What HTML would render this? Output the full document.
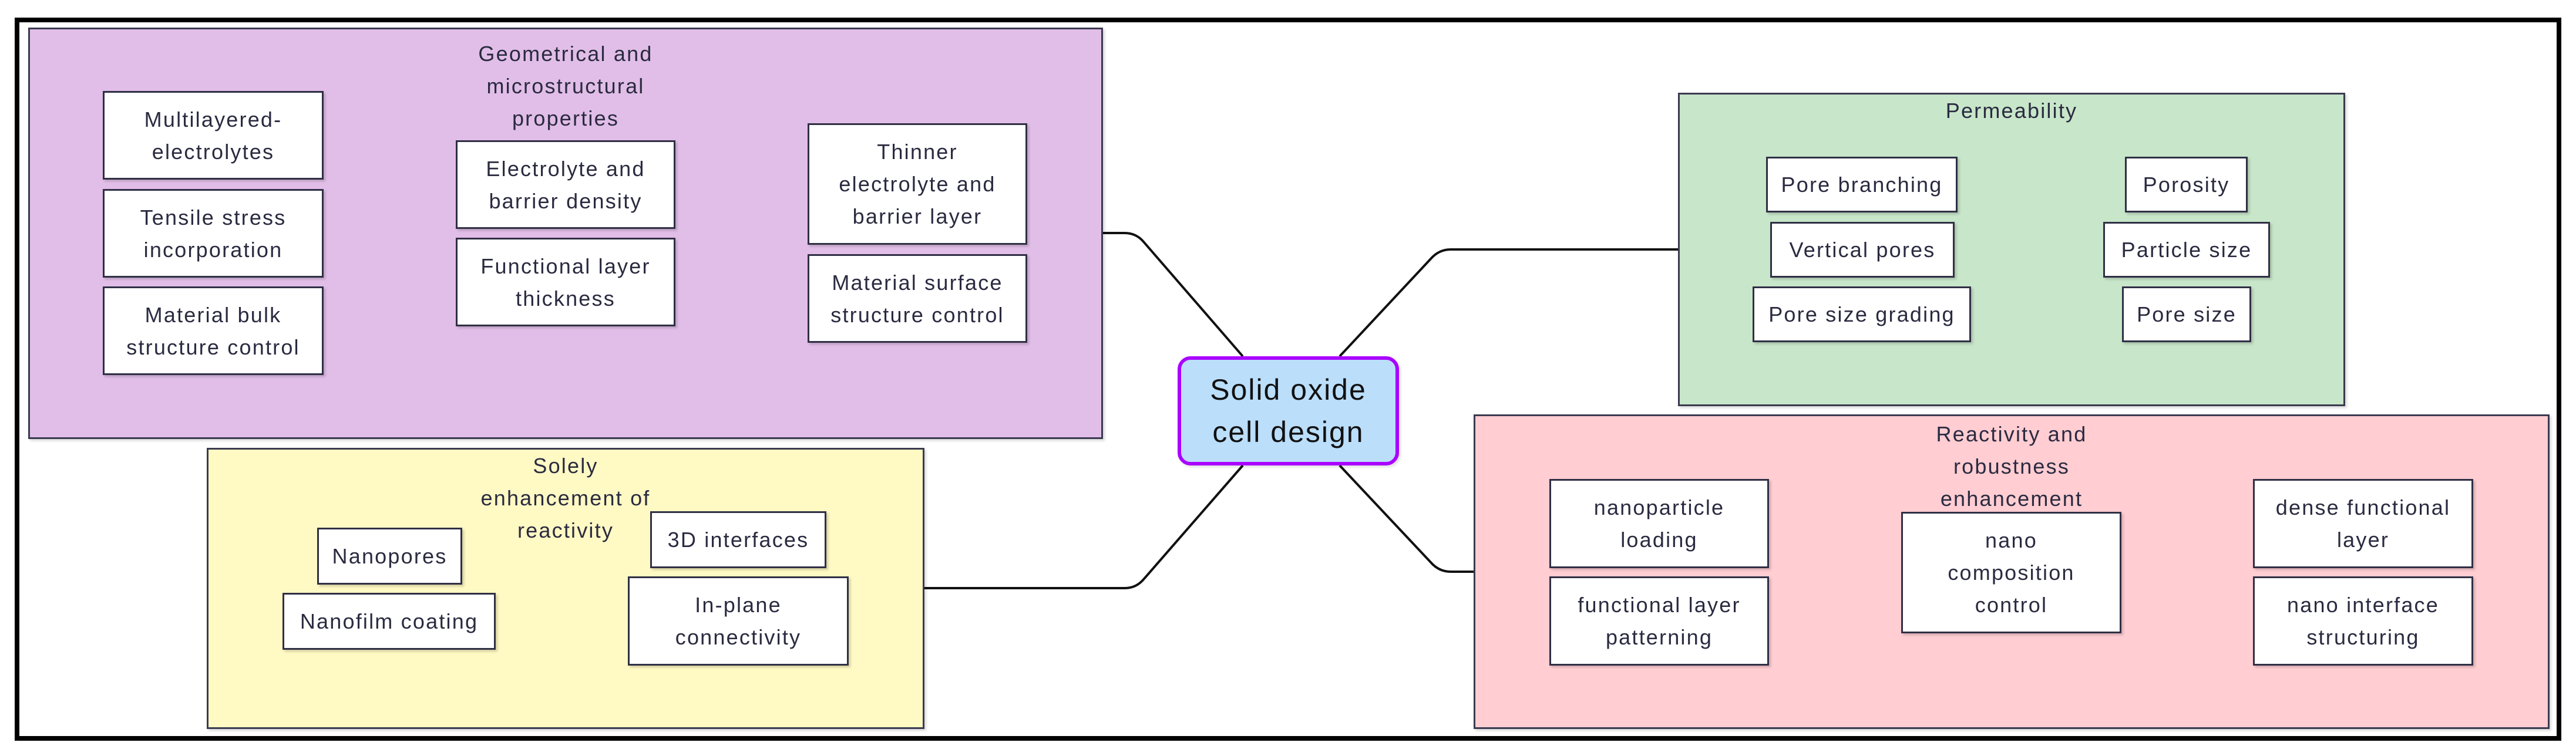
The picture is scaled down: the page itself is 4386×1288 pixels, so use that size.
<!DOCTYPE html>
<html><head><meta charset="utf-8"><style>
html,body{margin:0;padding:0;background:#fff;}
body{width:4386px;height:1288px;position:relative;overflow:hidden;font-family:"Liberation Sans",sans-serif;color:#2a2a40;}
.a{position:absolute;box-sizing:border-box;}
.outer{left:25px;top:30px;width:4336px;height:1232px;border:8px solid #000;}
.grp{border:3px solid #3a3a50;box-shadow:3px 3px 4px rgba(0,0,0,0.15);}
.t{position:absolute;left:0;right:0;text-align:center;font-size:36px;letter-spacing:2.2px;line-height:55px;}
.b{background:#fff;border:3px solid #2f2f45;display:flex;align-items:center;justify-content:center;text-align:center;font-size:36px;letter-spacing:2.2px;line-height:55px;box-shadow:3px 3px 4px rgba(0,0,0,0.18);}
</style></head><body>
<div class="a outer"></div>
<svg class="a" style="left:0;top:0" width="4386" height="1288">
<g fill="none" stroke="#111" stroke-width="4">
<path d="M1878 397 H1915 Q1935 397 1948 413 L2116 607"/>
<path d="M1573 1002 H1915 Q1935 1002 1948 986 L2116 793"/>
<path d="M2857 425 H2470 Q2450 425 2436 441 L2281 607"/>
<path d="M2509 974 H2470 Q2450 974 2436 958 L2281 793"/>
</g></svg>

<div class="a grp" style="left:48px;top:47px;width:1830px;height:701px;background:#e1bee7;">
<div class="t" style="top:14px;">Geometrical and<br>microstructural<br>properties</div></div>
<div class="a b" style="left:175px;top:155px;width:376px;height:151px;">Multilayered-<br>electrolytes</div>
<div class="a b" style="left:175px;top:322px;width:376px;height:151px;">Tensile stress<br>incorporation</div>
<div class="a b" style="left:175px;top:488px;width:376px;height:151px;">Material bulk<br>structure control</div>
<div class="a b" style="left:776px;top:239px;width:374px;height:151px;">Electrolyte and<br>barrier density</div>
<div class="a b" style="left:776px;top:405px;width:374px;height:151px;">Functional layer<br>thickness</div>
<div class="a b" style="left:1375px;top:210px;width:374px;height:207px;">Thinner<br>electrolyte and<br>barrier layer</div>
<div class="a b" style="left:1375px;top:433px;width:374px;height:151px;">Material surface<br>structure control</div>

<div class="a grp" style="left:352px;top:763px;width:1222px;height:479px;background:#fff9c4;">
<div class="t" style="top:0px;">Solely<br>enhancement of<br>reactivity</div></div>
<div class="a b" style="left:540px;top:899px;width:247px;height:97px;">Nanopores</div>
<div class="a b" style="left:481px;top:1010px;width:363px;height:97px;">Nanofilm coating</div>
<div class="a b" style="left:1107px;top:871px;width:300px;height:97px;">3D interfaces</div>
<div class="a b" style="left:1069px;top:982px;width:376px;height:152px;">In-plane<br>connectivity</div>

<div class="a" style="left:2005px;top:607px;width:377px;height:186px;background:#bbdefb;border:6px solid #aa00ff;border-radius:22px;display:flex;align-items:center;justify-content:center;text-align:center;font-size:50px;line-height:72px;color:#111;letter-spacing:2px;box-shadow:3px 3px 5px rgba(0,0,0,0.12);">Solid oxide<br>cell design</div>

<div class="a grp" style="left:2857px;top:158px;width:1136px;height:534px;background:#c8e6c9;">
<div class="t" style="top:0px;">Permeability</div></div>
<div class="a b" style="left:3007px;top:267px;width:326px;height:95px;">Pore branching</div>
<div class="a b" style="left:3014px;top:378px;width:314px;height:95px;">Vertical pores</div>
<div class="a b" style="left:2984px;top:488px;width:372px;height:95px;">Pore size grading</div>
<div class="a b" style="left:3618px;top:267px;width:209px;height:95px;">Porosity</div>
<div class="a b" style="left:3581px;top:378px;width:284px;height:95px;">Particle size</div>
<div class="a b" style="left:3613px;top:488px;width:220px;height:95px;">Pore size</div>

<div class="a grp" style="left:2509px;top:706px;width:1832px;height:536px;background:#ffcdd2;">
<div class="t" style="top:3px;">Reactivity and<br>robustness<br>enhancement</div></div>
<div class="a b" style="left:2638px;top:816px;width:374px;height:152px;">nanoparticle<br>loading</div>
<div class="a b" style="left:2638px;top:982px;width:374px;height:152px;">functional layer<br>patterning</div>
<div class="a b" style="left:3237px;top:872px;width:375px;height:207px;">nano<br>composition<br>control</div>
<div class="a b" style="left:3836px;top:816px;width:375px;height:152px;">dense functional<br>layer</div>
<div class="a b" style="left:3836px;top:982px;width:375px;height:152px;">nano interface<br>structuring</div>
</body></html>
